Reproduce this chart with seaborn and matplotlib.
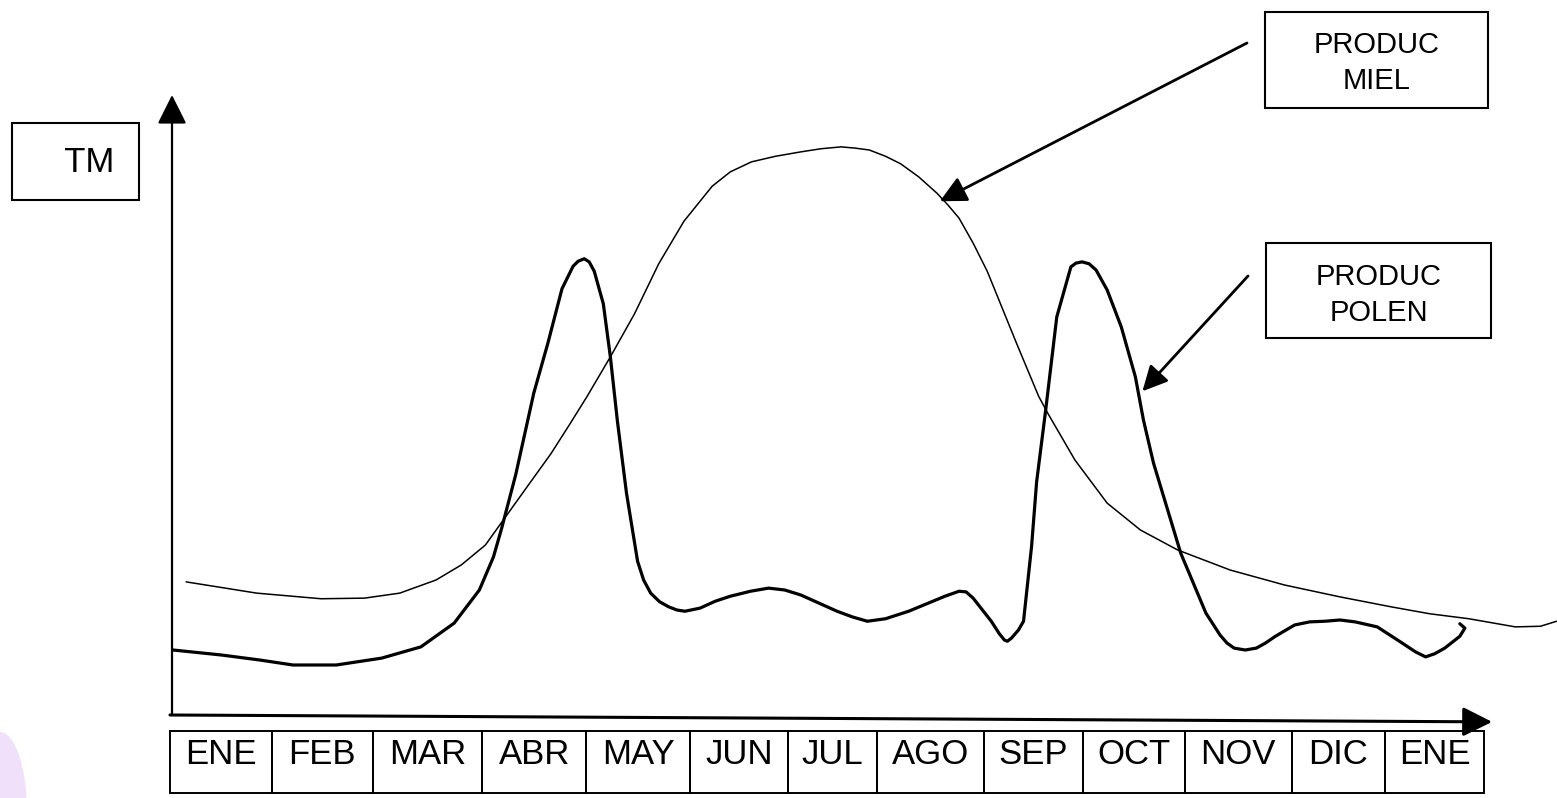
"""
Seasonal honey / pollen production sketch (TM per month)
"""

import matplotlib
matplotlib.use('Agg')
import matplotlib.pyplot as plt
import seaborn as sns
import pandas as pd
from matplotlib.patches import Rectangle, Ellipse

# month boxes under the x axis, edges in month units (0 = y axis)
months = ['ENE', 'FEB', 'MAR', 'ABR', 'MAY', 'JUN', 'JUL', 'AGO', 'SEP', 'OCT', 'NOV', 'DIC', 'ENE']
month_edges = [-0.02, 0.99, 1.99, 3.08, 4.11, 5.14, 6.11, 7.00, 8.06, 9.04, 10.05, 11.11, 12.04, 13.02]

# PRODUC MIEL (thin curve)
miel_x = [0.14, 0.84, 1.48, 1.91, 2.26, 2.62, 2.87, 3.11, 3.35, 3.55, 3.76, 3.95, 4.12,
          4.35, 4.59, 4.83, 5.08, 5.36, 5.54, 5.75, 5.99, 6.24, 6.44, 6.64, 6.78, 6.92,
          7.08, 7.23, 7.41, 7.59, 7.70, 7.81, 7.95, 8.09, 8.38, 8.60, 8.69, 8.96, 9.28,
          9.61, 9.98, 10.50, 11.04, 11.59, 12.10, 12.48, 12.87, 13.33, 13.58, 13.74]
miel_tm = [22.1, 20.3, 19.4, 19.5, 20.3, 22.4, 24.8, 28.0, 33.4, 37.9, 42.6, 47.4, 51.8,
           58.1, 65.0, 73.0, 79.8, 85.4, 87.7, 89.3, 90.2, 90.9, 91.4, 91.7, 91.5, 91.2,
           90.2, 89.0, 86.9, 84.3, 82.4, 80.3, 76.3, 71.8, 60.3, 51.8, 49.1, 41.6, 34.7,
           30.4, 27.2, 24.0, 21.6, 19.7, 18.1, 17.0, 16.2, 14.9, 15.0, 15.8]

# PRODUC POLEN (thick curve)
polen_x = [0.01, 0.49, 0.87, 1.20, 1.63, 2.08, 2.47, 2.80, 3.05, 3.19, 3.27, 3.41, 3.59,
           3.73, 3.87, 3.98, 4.03, 4.09, 4.14, 4.19, 4.28, 4.35, 4.42, 4.51, 4.62, 4.68,
           4.75, 4.84, 4.93, 5.01, 5.09, 5.24, 5.39, 5.54, 5.74, 5.92, 6.08, 6.24, 6.60,
           6.75, 6.90, 7.08, 7.31, 7.67, 7.81, 7.88, 7.95, 8.13, 8.21, 8.26, 8.29, 8.33,
           8.40, 8.45, 8.53, 8.58, 8.67, 8.78, 8.92, 8.97, 9.03, 9.10, 9.17, 9.28, 9.42,
           9.56, 9.64, 9.74, 10.01, 10.26, 10.40, 10.47, 10.54, 10.65, 10.76, 10.85, 10.95,
           11.14, 11.29, 11.44, 11.59, 11.74, 11.96, 12.19, 12.34, 12.44, 12.53, 12.63,
           12.78, 12.83, 12.78]
polen_tm = [11.2, 10.4, 9.6, 8.8, 8.8, 9.9, 11.7, 15.5, 20.8, 26.1, 30.6, 39.2, 52.3,
            60.3, 69.0, 72.6, 73.4, 73.8, 73.3, 71.8, 66.6, 58.1, 47.8, 36.3, 25.4, 22.4,
            20.3, 18.9, 18.1, 17.6, 17.4, 17.9, 19.0, 19.8, 20.6, 21.1, 20.8, 20.0, 17.4,
            16.5, 15.8, 16.2, 17.4, 19.8, 20.6, 20.5, 19.5, 15.8, 13.8, 12.8, 12.6, 13.1,
            14.4, 15.8, 27.8, 38.1, 49.6, 64.5, 72.5, 73.1, 73.3, 73.0, 72.0, 68.8, 62.9,
            54.9, 48.0, 41.1, 26.7, 17.1, 13.6, 12.3, 11.5, 11.2, 11.5, 12.3, 13.4,
            15.2, 15.7, 15.8, 16.0, 15.7, 14.9, 12.5, 10.9, 10.1, 10.6, 11.5,
            13.4, 14.7, 15.4]

miel = pd.DataFrame({'mes': miel_x, 'TM': miel_tm})
polen = pd.DataFrame({'mes': polen_x, 'TM': polen_tm})

W, H = 1557, 798
sns.set_style('white')
plt.rcParams['font.family'] = ['Liberation Sans', 'DejaVu Sans']
plt.rcParams['text.color'] = 'black'


def fig_px(x, y):
    """top-left pixel position -> figure fraction"""
    return x / W, 1 - y / H


fig = plt.figure(figsize=(W / 100, H / 100), dpi=100)
ax = fig.add_axes([0, 0, 1, 1])
ax.set_xlim(-1.707, 13.744)
ax.set_ylim(-12.48, 115.2)
ax.axis('off')

# faint violet smudge bottom-left
fig.patches.append(Ellipse(fig_px(0, 812), 54 / W, 160 / H, transform=fig.transFigure,
                           facecolor='#f0e0fa', edgecolor='none', zorder=0))

# curves
sns.lineplot(data=polen, x='mes', y='TM', sort=False, estimator=None, ax=ax,
             color='black', linewidth=2.3)
sns.lineplot(data=miel, x='mes', y='TM', sort=False, estimator=None, ax=ax,
             color='black', linewidth=1.1)
for ln in ax.lines:
    ln.set_solid_joinstyle('round')
    ln.set_solid_capstyle('round')

# axes drawn as arrows
arrow = dict(arrowstyle='-|>', color='black', shrinkA=0, shrinkB=0, mutation_scale=45)
ax.annotate('', xy=(0, 100), xytext=(0, 0.8), arrowprops=dict(arrow, linewidth=1.6))
ax.annotate('', xy=(13.1, -0.3), xytext=(-0.02, 0.8), arrowprops=dict(arrow, linewidth=2.2))

# month boxes
for i, m in enumerate(months):
    x0, x1 = month_edges[i], month_edges[i + 1]
    ax.add_patch(Rectangle((x0, -11.7), x1 - x0, 9.95, fill=False, edgecolor='black', linewidth=1.4))
    ax.text((x0 + x1) / 2, -5.45, m, ha='center', va='center', fontsize=25)


# label boxes
def label_box(x0, y0, x1, y1, lines, size, y_lines):
    bx, by = fig_px(x0, y1)
    fig.patches.append(Rectangle((bx, by), (x1 - x0) / W, (y1 - y0) / H, transform=fig.transFigure,
                                 fill=False, edgecolor='black', linewidth=1.5))
    for txt, yy in zip(lines, y_lines):
        fig.text((x0 + x1) / 2 / W, 1 - yy / H, txt, ha='center', va='center', fontsize=size)


label_box(12, 123, 139, 200, ['   TM'], 25, [162])
label_box(1265, 12, 1488, 108, ['PRODUC', 'MIEL'], 21, [45, 81])
label_box(1266, 243, 1491, 338, ['PRODUC', 'POLEN'], 21, [277, 313])

# pointer arrows from the labels to the curves
ax.annotate('', xy=(7.62, 83.0), xytext=fig_px(1247, 43), textcoords='figure fraction',
            arrowprops=dict(arrow, linewidth=2.0, mutation_scale=40))
ax.annotate('', xy=(9.63, 52.6), xytext=fig_px(1248, 276), textcoords='figure fraction',
            arrowprops=dict(arrow, linewidth=2.0, mutation_scale=38))

plt.savefig('out.png', dpi=100)
plt.close()
